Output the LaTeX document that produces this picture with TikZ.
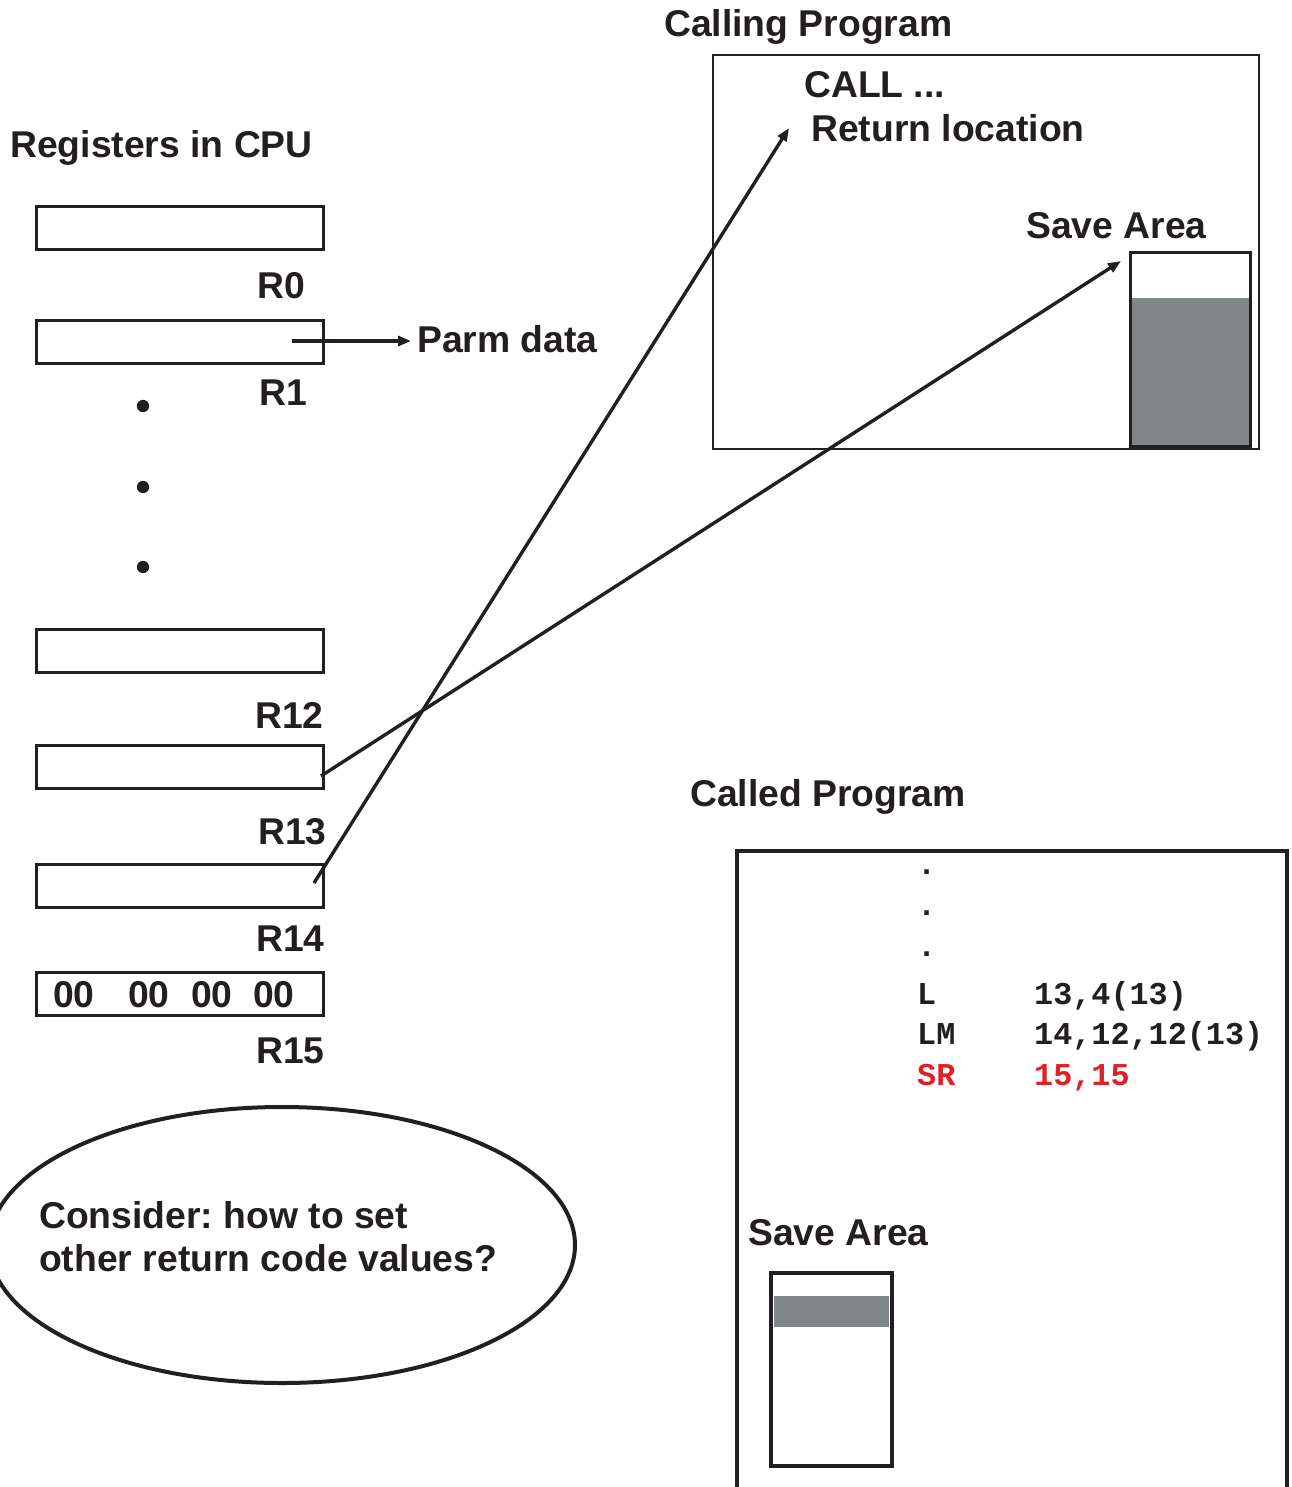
\documentclass[tikz,border=0pt]{standalone}
\usepackage{fontspec}
\setmainfont{Liberation Sans}
\newfontfamily\codefont{Liberation Mono}
\usetikzlibrary{arrows.meta}

\definecolor{ink}{RGB}{35,31,32}
\definecolor{savegray}{RGB}{129,134,137}
\definecolor{codered}{RGB}{224,32,36}

\frenchspacing

\begin{document}
\begin{tikzpicture}[x=1pt,y=-1pt,
  lbl/.style={font=\fontsize{37.3}{44}\selectfont\bfseries, text=ink, inner sep=0pt, anchor=base west},
  code/.style={font=\codefont\bfseries\fontsize{31.8}{40}\selectfont, text=ink, inner sep=0pt, anchor=base west},
  regbox/.style={draw=ink, line width=3.1pt, minimum width=287pt, minimum height=43pt, inner sep=0pt},
  arr/.style={draw=ink, line width=3.4pt, -{Triangle[length=13pt,width=10pt]}}]

\useasboundingbox (0,0) rectangle (1291,1487);

% ---- registers ----
\node[lbl] (regtitle) at (10,158) {Registers in CPU};

\node[regbox] (r0)  at (180,228) {};
\node[regbox] (r1)  at (180,342) {};
\node[regbox] (r12) at (180,651) {};
\node[regbox] (r13) at (180,767) {};
\node[regbox] (r14) at (180,886) {};
\node[regbox] (r15) at (180,994) {};

\node[lbl] (l0)  at (257,299)  {R0};
\node[lbl] (l1)  at (259,405)  {R1};
\node[lbl] (l12) at (255,728)  {R12};
\node[lbl] (l13) at (258,844)  {R13};
\node[lbl] (l14) at (256,951)  {R14};
\node[lbl] (l15) at (256,1063) {R15};

\node[lbl] (r15val) at (53,1007) {00\hspace{33.5pt}00\hspace{21.5pt}00\hspace{20.5pt}00};

\foreach \y/\n in {406/a,487/b,567/c}
  \fill[ink] (143,\y) circle (6.2pt) coordinate (dot\n);

% ---- parm data ----
\node[lbl] (parm) at (417,352) {Parm data};
\coordinate (r1p) at (292,341);
\coordinate (parmtip) at (411,341);
\draw[arr] (r1p) -- (parmtip);

% ---- calling program ----
\node[lbl] (calltitle) at (664,37) {Calling Program};
\draw[ink, line width=2.8pt] (713,55) rectangle (1259,449);
\node[lbl] (callins) at (804,98) {CALL ...};
\node[lbl] (retloc) at (811,142) {Return location};
\node[lbl] (savetitle) at (1026,239) {Save Area};
\fill[savegray] (1131,298) rectangle (1249,446);
\draw[ink, line width=3pt] (1130,253) rectangle (1250,446);

% ---- pointers from R13 and R14 ----
\coordinate (r14p) at (314,883);
\coordinate (rettip) at (789,128);
\coordinate (r13p) at (321,776);
\coordinate (savetip) at (1121,261);
\draw[arr] (r14p) -- (rettip);
\draw[arr] (r13p) -- (savetip);

% ---- called program ----
\node[lbl] (calledtitle) at (690,806) {Called Program};
\draw[ink, line width=4.2pt] (737,1495) -- (737,851) -- (1287,851) -- (1287,1495);

\foreach \y/\n in {874/a,915/b,956/c}
  \node[code] (cdot\n) at (917,\y) {.};
\node[code] (opL)  at (917,1004) {L};
\node[code] (argL) at (1034,1004) {13,4(13)};
\node[code] (opLM)  at (917,1044) {LM};
\node[code] (argLM) at (1034,1044) {14,12,12(13)};
\node[code, text=codered] (opSR)  at (917,1085) {SR};
\node[code, text=codered] (argSR) at (1034,1085) {15,15};

\node[lbl] (save2title) at (748,1245) {Save Area};
\draw[ink, line width=3.4pt] (771,1273) rectangle (892,1466);
\fill[savegray] (774,1296) rectangle (889,1327);

% ---- question bubble ----
\draw[ink, line width=4pt] (282,1245) ellipse [x radius=293pt, y radius=138pt];
\node[lbl] (q1) at (39,1228) {Consider: how to set};
\node[lbl] (q2) at (39,1271) {other return code values?};

\end{tikzpicture}
\end{document}
